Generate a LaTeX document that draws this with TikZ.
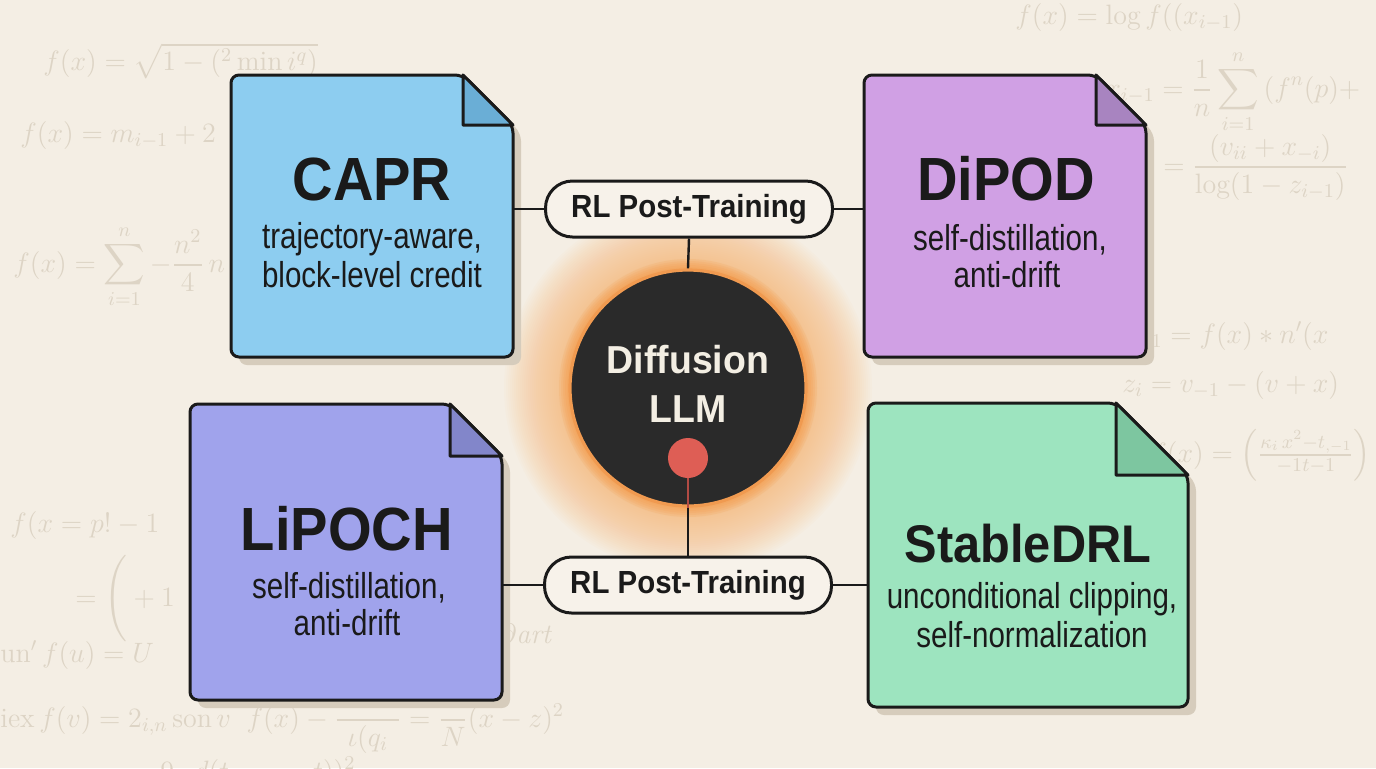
\RequirePackage{fix-cm}
\documentclass[tikz,border=0pt]{standalone}
\usepackage{amsmath}
\usepackage{fontspec}
\usetikzlibrary{calc}
\newfontfamily\titlef{Liberation Sans}[FakeStretch=0.92]
\newfontfamily\descf{Liberation Sans}[FakeStretch=0.82]
\newfontfamily\llmf{Liberation Sans}[FakeStretch=0.96]

\definecolor{bgc}{HTML}{F4EEE4}
\definecolor{fcol}{HTML}{DDD4C5}
\definecolor{inkc}{HTML}{1A1A1A}
\definecolor{shadc}{HTML}{D6CCBC}
\definecolor{caprc}{HTML}{8DCDF0}
\definecolor{caprf}{HTML}{6AAED6}
\definecolor{dipodc}{HTML}{D0A0E4}
\definecolor{dipodf}{HTML}{A884C0}
\definecolor{lipc}{HTML}{A0A3EC}
\definecolor{lipf}{HTML}{8286CA}
\definecolor{stabc}{HTML}{9DE4BF}
\definecolor{stabf}{HTML}{7DC6A0}
\definecolor{pillc}{HTML}{F7F2EA}
\definecolor{darkc}{HTML}{2A2A2A}
\definecolor{ringc}{HTML}{F09A50}
\definecolor{glowa}{HTML}{F39A48}
\definecolor{glowb}{HTML}{F8B672}
\definecolor{dotc}{HTML}{DE5E55}
\definecolor{llmtext}{HTML}{F3EEE3}

\tikzset{
  cardbox/.style={rectangle, inner sep=0pt, outer sep=0pt},
  cardline/.style={draw=inkc, line width=1.5pt, rounded corners=4pt, line join=round},
  foldline/.style={draw=inkc, line width=1.5pt, line join=round},
  cardshadow/.style={fill=shadc, rounded corners=4pt},
  title/.style={font=\titlef\bfseries\fontsize{30.5}{34}\selectfont, text=inkc, anchor=base, inner sep=0pt},
  desc/.style={font=\descf\fontsize{18}{20}\selectfont, text=inkc, anchor=base, inner sep=0pt},
  pill/.style={draw=inkc, line width=1.5pt, fill=pillc, rounded corners=13.5pt, minimum width=143.5pt, minimum height=28pt, inner sep=0pt, font=\titlef\bfseries\fontsize{16}{18}\selectfont, text=inkc},
  conn/.style={draw=inkc, line width=1.2pt},
  formula/.style={text=fcol, anchor=base west, inner sep=0pt, font=\fontsize{14}{16}\selectfont},
  llmlabel/.style={font=\llmf\bfseries\fontsize{19.5}{22}\selectfont, text=llmtext, anchor=base, inner sep=0pt},
  glowring/.style={fill=glowb, fill opacity=0.036},
  glowcore/.style={fill=glowa, fill opacity=0.16},
}

\newcommand\drawcard[4]{%
  \fill[cardshadow] ($(#1.north west)+(8,8)$) -- ($(#1.north east)+(8-#2,8)$) -- ($(#1.north east)+(8,8+#2)$) -- ($(#1.south east)+(8,8)$) -- ($(#1.south west)+(8,8)$) -- cycle;
  \filldraw[cardline, fill=#3] (#1.north west) -- ($(#1.north east)+(-#2,0)$) -- ($(#1.north east)+(0,#2)$) -- (#1.south east) -- (#1.south west) -- cycle;
  \filldraw[foldline, fill=#4] ($(#1.north east)+(-#2,0)$) -- ($(#1.north east)+(-#2,#2)$) -- ($(#1.north east)+(0,#2)$) -- cycle;
}

\begin{document}
\begin{tikzpicture}[x=0.5pt, y=-0.5pt]
\useasboundingbox (0,0) rectangle (1376,768);
\fill[bgc] (0,0) rectangle (1376,768);

% faint background formulas
\node[formula] (f1) at (43,70) {$f(x)=\sqrt{1-\left(^2\min i^q\right)}$};
\node[formula] (f2) at (20,142) {$f(x)=m_{i-1}+2$};
\node[formula] (f3) at (13,272) {$f(x)=\displaystyle\sum_{i=1}^{n}-\frac{n^2}{4}\,n$};
\node[formula] (f4) at (10,532) {$f(x=p!-1$};
\node[formula] (f5) at (75,606) {$=\Bigg(+1$};
\node[formula] (f6) at (0,662) {$\mathrm{un}'\,f(u)=U$};
\node[formula] (f7) at (0,727) {$\mathrm{iex}\,f(v)=2_{i,n}\,\mathrm{son}\,v\;\; f(x)-\dfrac{\hphantom{xxxx}}{\iota(q_i}=\dfrac{1}{N}(x-z)^2$};
\node[formula] (f8) at (160,780) {$9\cdot d(t\qquad\quad t))^2$};
\node[formula] (f9) at (500,643) {$\partial\mathit{art}$};
\node[formula] (r1) at (1015,24) {$f(x)=\log f((x_{i-1})$};
\node[formula] (r2) at (1105,97) {$x_{i-1}=\dfrac{1}{n}\displaystyle\sum_{i=1}^{n}\,(f^{n}(p)+$};
\node[formula] (r3) at (1163,174) {$=\dfrac{(v_{ii}+x_{-i})}{\log(1-z_{i-1})}$};
\node[formula] (r4) at (1130,343) {$x_{.1}=f(x)*n'(x$};
\node[formula] (r5) at (1122,392) {$z_i=v_{-1}-(v+x)$};
\node[formula] (r6) at (1150,462) {$f(x)=\left(\frac{\kappa_i\,x^2-t_{,-1}}{-1t-1}\right)=$};

% glow
\coordinate (llmc) at (688,388);
\foreach \r in {120,122,...,184} {\fill[glowring] (llmc) circle (\r);}
\foreach \r in {119,121,...,129} {\fill[glowcore] (llmc) circle (\r);}

% cards
\node[cardbox, minimum width=141pt, minimum height=141pt] (capr) at (372,216) {};
\node[cardbox, minimum width=141pt, minimum height=141pt] (dipod) at (1005,216) {};
\node[cardbox, minimum width=156pt, minimum height=148pt] (lipoch) at (346,552) {};
\node[cardbox, minimum width=160pt, minimum height=152pt] (stable) at (1028,555) {};
\drawcard{capr}{50}{caprc}{caprf}
\drawcard{dipod}{50}{dipodc}{dipodf}
\drawcard{lipoch}{52}{lipc}{lipf}
\drawcard{stable}{72}{stabc}{stabf}

\node[title] (capr-t) at (372,200) {CAPR};
\node[desc] (capr-d1) at (372,248) {trajectory-aware,};
\node[desc] (capr-d2) at (372,287) {block-level credit};

\node[title] (dipod-t) at (1006,200) {DiPOD};
\node[desc] (dipod-d1) at (1010,250) {self-distillation,};
\node[desc] (dipod-d2) at (1007,287) {anti-drift};

\node[title] (lipoch-t) at (347,550) {LiPOCH};
\node[desc] (lipoch-d1) at (349,598) {self-distillation,};
\node[desc] (lipoch-d2) at (347,635) {anti-drift};

\node[title, font=\titlef\bfseries\fontsize{26.5}{30}\selectfont] (stable-t) at (1028,562) {StableDRL};
\node[desc] (stable-d1) at (1032,608) {unconditional clipping,};
\node[desc] (stable-d2) at (1032,647) {self-normalization};

% pills
\node[pill] (rl1) at (689,209) {RL Post-Training};
\node[pill] (rl2) at (688,585) {RL Post-Training};

% central circle
\node[circle, fill=darkc, draw=ringc, line width=1.6pt, minimum size=118pt, inner sep=0pt] (llm) at (llmc) {};
\node[llmlabel] (llm-1) at (688,373) {Diffusion};
\node[llmlabel] (llm-2) at (688,422) {LLM};
\node[circle, fill=dotc, minimum size=20pt, inner sep=0pt] (dot) at (688,458) {};

% connectors
\draw[conn] (rl1.west -| capr.east) -- (rl1.west);
\draw[conn] (rl1.east) -- (rl1.east -| dipod.west);
\draw[conn] (rl1.south) -- (llm.north);
\draw[conn, draw=dotc!80!black] (dot.south) -- (llm.south);
\draw[conn] (llm.south) -- (rl2.north);
\draw[conn] (rl2.west -| lipoch.east) -- (rl2.west);
\draw[conn] (rl2.east) -- (rl2.east -| stable.west);
\end{tikzpicture}
\end{document}
